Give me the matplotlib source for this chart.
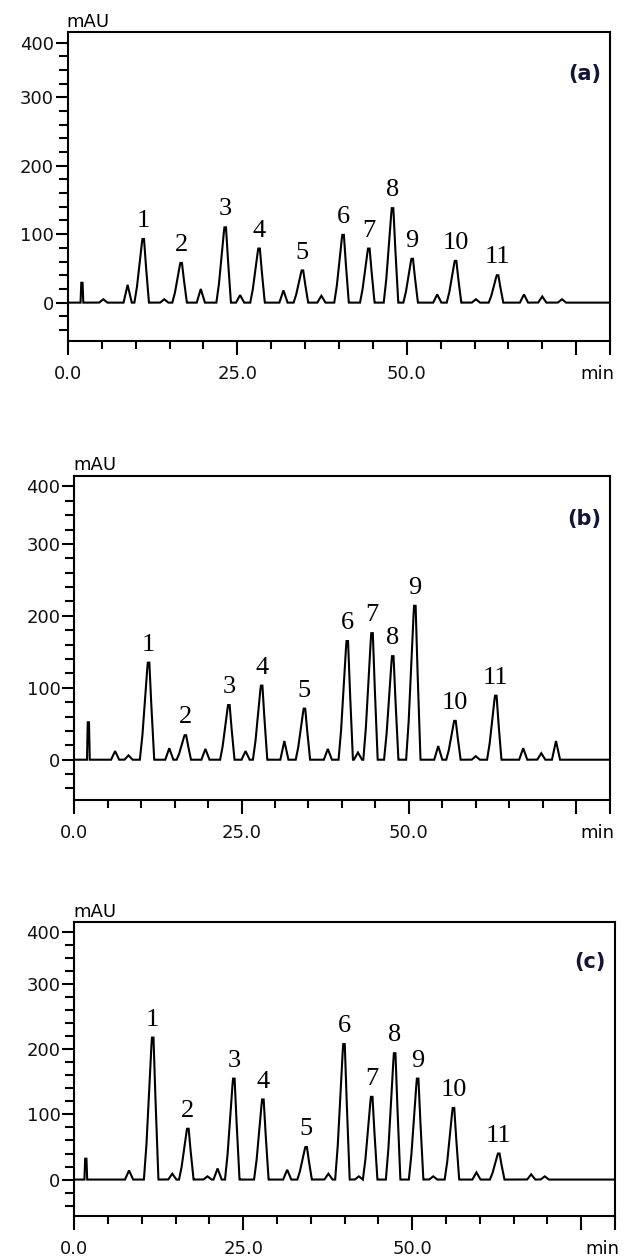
"""HPLC chromatograms (a)-(c), three stacked panels."""

import matplotlib

matplotlib.use("Agg")
import matplotlib.pyplot as plt
import numpy as np

# time axis (min)
t_max = 80.0

# peak labels shared by all panels
peak_labels = ["1", "2", "3", "4", "5", "6", "7", "8", "9", "10", "11"]

# panel (a): retention times (min) and heights (mAU) of labelled peaks
rt_a = [11.1, 16.7, 23.2, 28.2, 34.6, 40.6, 44.4, 47.9, 50.8, 57.2, 63.4]
h_a = [93, 58, 110, 79, 47, 99, 79, 138, 64, 61, 40]
minor_rt_a = [5.2, 8.8, 14.2, 19.6, 25.4, 31.8, 37.4, 54.5, 60.2, 67.3, 70.0, 72.9]
minor_h_a = [5, 26, 5, 20, 11, 18, 10, 12, 5, 12, 9, 5]
spike_rt_a = 2.05
spike_h_a = 29

# panel (b)
rt_b = [11.1, 16.6, 23.1, 28.0, 34.4, 40.8, 44.5, 47.6, 50.9, 56.9, 63.0]
h_b = [135, 34, 76, 103, 71, 165, 176, 144, 214, 54, 89]
minor_rt_b = [6.1, 8.1, 14.2, 19.6, 25.6, 31.4, 37.9, 42.4, 54.4, 60.0, 67.1, 69.8, 72.0]
minor_h_b = [12, 6, 16, 15, 12, 26, 15, 10, 19, 5, 16, 9, 26]
spike_rt_b = 2.1
spike_h_b = 52

# panel (c)
rt_c = [11.6, 16.8, 23.6, 27.9, 34.3, 39.9, 44.0, 47.4, 50.8, 56.1, 62.8]
h_c = [218, 78, 155, 123, 50, 208, 127, 194, 155, 110, 40]
minor_rt_c = [8.1, 14.5, 19.7, 21.2, 31.5, 37.6, 42.1, 53.1, 59.5, 67.6, 69.6]
minor_h_c = [14, 9, 5, 17, 15, 9, 5, 5, 11, 8, 5]
spike_rt_c = 1.7
spike_h_c = 32

# peak outlines (the recorder draws coarse polylines)
MAIN_OFFS = np.array([-1.3, -0.95, -0.35, -0.12, 0.12, 0.3, 0.5, 0.85])
MAIN_FRAC = np.array([0.0, 0.22, 0.8, 1.0, 1.0, 0.72, 0.45, 0.0])
MINOR_OFFS = np.array([-0.6, 0.0, 0.6])
MINOR_FRAC = np.array([0.0, 1.0, 0.0])
SPIKE_OFFS = np.array([-0.2, -0.1, 0.1, 0.2])
SPIKE_FRAC = np.array([0.0, 1.0, 1.0, 0.0])

plt.rcParams["font.family"] = ["DejaVu Sans"]


def build_trace(rt, h, minor_rt, minor_h, spike_rt, spike_h):
    t = np.linspace(0, t_max, 8001)
    y = np.zeros_like(t)
    for r, p in zip(rt, h):
        y += np.interp(t, r + MAIN_OFFS, p * MAIN_FRAC, left=0, right=0)
    for r, p in zip(minor_rt, minor_h):
        y += np.interp(t, r + MINOR_OFFS, p * MINOR_FRAC, left=0, right=0)
    y += np.interp(t, spike_rt + SPIKE_OFFS, spike_h * SPIKE_FRAC, left=0, right=0)
    return t, y


def draw_panel(ax, rt, h, minor_rt, minor_h, spike_rt, spike_h, tag):
    t, y = build_trace(rt, h, minor_rt, minor_h, spike_rt, spike_h)
    ax.plot(t, y, color="black", linewidth=1.5, solid_joinstyle="miter")

    for r, p, lab in zip(rt, h, peak_labels):
        ax.annotate(
            lab,
            xy=(r, p),
            xytext=(0, 5),
            textcoords="offset points",
            ha="center",
            va="bottom",
            fontsize=19,
            family="Liberation Serif",
        )

    ax.set_xlim(0, t_max)
    ax.set_ylim(-56, 395)

    ax.set_xticks([0, 25, 50, 75, 80])
    ax.set_xticklabels(["0.0", "25.0", "50.0", "", ""])
    ax.set_xticks([v for v in range(5, 75, 5) if v % 25], minor=True)

    ax.set_yticks([0, 100, 200, 300, 380])
    ax.set_yticklabels(["0", "100", "200", "300", "400"])
    ax.set_yticks([v for v in range(-40, 381, 20) if v not in (0, 100, 200, 300, 380)], minor=True)

    ax.tick_params(axis="both", which="both", direction="out", width=1.5, colors="black",
                   labelsize=13, labelcolor="#111111")
    ax.tick_params(axis="y", which="major", length=8.5, pad=1.5)
    ax.tick_params(axis="y", which="minor", length=6.5)
    ax.tick_params(axis="x", which="major", length=10, pad=7)
    ax.tick_params(axis="x", which="minor", length=5.5)

    for side in ax.spines.values():
        side.set_linewidth(1.5)

    ax.annotate("mAU", xy=(0, 1), xycoords="axes fraction", xytext=(-1, 1),
                textcoords="offset points", ha="left", va="bottom", fontsize=13)
    ax.annotate("min", xy=(1, 0), xycoords="axes fraction", xytext=(-9, -17.5),
                textcoords="offset points", ha="center", va="top", fontsize=13)
    ax.text(0.953, 0.865, tag, transform=ax.transAxes, ha="center", va="center",
            fontsize=15, fontweight="bold", color="#141438")


fig = plt.figure(figsize=(6.29, 12.6), dpi=100)
ax_a = fig.add_axes([0.1081, 0.7294, 0.8617, 0.2450])
ax_b = fig.add_axes([0.1181, 0.3651, 0.8509, 0.2574])
ax_c = fig.add_axes([0.1181, 0.0349, 0.8596, 0.2331])

draw_panel(ax_a, rt_a, h_a, minor_rt_a, minor_h_a, spike_rt_a, spike_h_a, "(a)")
draw_panel(ax_b, rt_b, h_b, minor_rt_b, minor_h_b, spike_rt_b, spike_h_b, "(b)")
draw_panel(ax_c, rt_c, h_c, minor_rt_c, minor_h_c, spike_rt_c, spike_h_c, "(c)")

fig.savefig("out.png", dpi=100)
plt.close(fig)
